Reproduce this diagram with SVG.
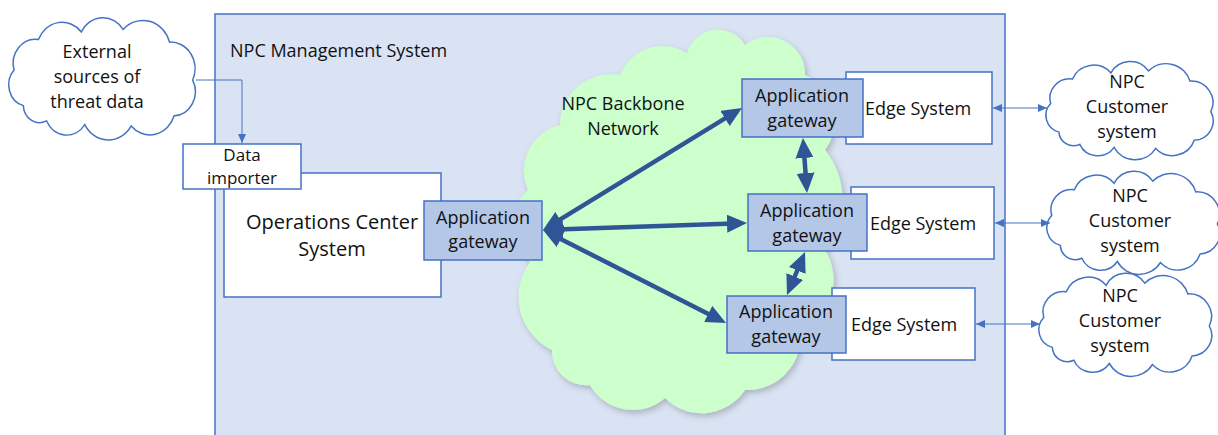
<svg xmlns="http://www.w3.org/2000/svg" width="1218" height="435" viewBox="0 0 1218 435">
<style>
  text { font-family: "Open Sans", "Noto Sans", "Liberation Sans", sans-serif; fill: #111; }
  .t18 { font-size: 18px; }
  .t17 { font-size: 17px; }
  .t20 { font-size: 20px; }
  .box { fill: #ffffff; stroke: #4472c4; stroke-width: 1.5; }
  .gw { fill: #b4c7e7; stroke: #4472c4; stroke-width: 1.5; }
  .cloud { fill: #ffffff; stroke: #4472c4; stroke-width: 1.5; }
  .thick { stroke: #2f5597; stroke-width: 4.5; fill: none; marker-start: url(#bigArrow); marker-end: url(#bigArrow); }
  .thin { stroke: #4472c4; stroke-width: 1; fill: none; }
</style>
<defs>
  <marker id="bigArrow" markerUnits="userSpaceOnUse" markerWidth="20" markerHeight="18" refX="14" refY="9" orient="auto-start-reverse" viewBox="0 0 20 18">
    <path d="M0,0 L20,9 L0,18 z" fill="#2f5597"/>
  </marker>
  <marker id="smallArrow" markerUnits="userSpaceOnUse" markerWidth="9" markerHeight="8" refX="9" refY="4" orient="auto-start-reverse" viewBox="0 0 9 8">
    <path d="M0,0 L9,4 L0,8 z" fill="#4472c4"/>
  </marker>
  <path id="cloudShape" vector-effect="non-scaling-stroke" d="M 22,70 A 17,17 0 0 1 14,42 A 19,19 0 0 1 35,18 A 22,22 0 0 1 72,12 A 21,21 0 0 1 108,10 A 24,24 0 0 1 148,20 A 21,21 0 0 1 168,50 A 19,19 0 0 1 152,78 A 22,22 0 0 1 115,86 A 23,23 0 0 1 75,85 A 19,19 0 0 1 42,82 A 14,14 0 0 1 22,70 Z"/>
  <filter id="shadow" x="-10%" y="-10%" width="120%" height="120%">
    <feDropShadow dx="2" dy="3" stdDeviation="3" flood-color="#000" flood-opacity="0.22"/>
  </filter>
</defs>

<g id="npc-management-system">
  <rect x="215" y="14" width="790" height="440" fill="#dae3f3" stroke="#4472c4" stroke-width="1.5"/>
  <text class="t18" x="230" y="57">NPC Management System</text>
</g>

<g id="npc-backbone-network">
  <path filter="url(#shadow)" fill="#ccffcc" d="M 552,350 A 59,59 0 0 1 530,262 A 47,47 0 0 1 528,190 A 47,47 0 0 1 560,125 A 51,51 0 0 1 620,75 A 46,46 0 0 1 687,53 A 32,32 0 0 1 745,45 A 37,37 0 0 1 805,75 A 50,50 0 0 1 825,150 A 80,80 0 0 1 825,250 A 55,55 0 0 1 800,330 A 53,53 0 0 1 745,390 A 52,52 0 0 1 665,398 A 49,49 0 0 1 590,385 A 34,34 0 0 1 552,350 Z"/>
  <text class="t18" text-anchor="middle" x="623" y="110">NPC Backbone</text>
  <text class="t18" text-anchor="middle" x="623" y="135">Network</text>
</g>

<g id="external-sources">
  <use href="#cloudShape" class="cloud" transform="translate(-2.2,16.7) scale(1.16,1.27)"/>
  <text class="t18" text-anchor="middle" x="97" y="58">External</text>
  <text class="t18" text-anchor="middle" x="97" y="83">sources of</text>
  <text class="t18" text-anchor="middle" x="97" y="108">threat data</text>
</g>

<g id="operations-center">
  <rect class="box" x="224" y="173" width="217" height="124"/>
  <text class="t20" text-anchor="middle" x="332" y="229">Operations Center</text>
  <text class="t20" text-anchor="middle" x="332" y="256">System</text>
</g>

<g id="data-importer">
  <rect class="box" x="183" y="144" width="118" height="45"/>
  <text class="t17" text-anchor="middle" x="242" y="161">Data</text>
  <text class="t17" text-anchor="middle" x="242" y="184">importer</text>
</g>

<g id="gateway-ops">
  <rect class="gw" x="424" y="201" width="118" height="59"/>
  <text class="t18" text-anchor="middle" x="483" y="224">Application</text>
  <text class="t18" text-anchor="middle" x="483" y="248">gateway</text>
</g>

<g id="edge-system-1">
  <rect class="box" x="846" y="72" width="146" height="72"/>
  <text class="t18" text-anchor="middle" x="918" y="115">Edge System</text>
</g>
<g id="gateway-1">
  <rect class="gw" x="742" y="79" width="121" height="58"/>
  <text class="t18" text-anchor="middle" x="802" y="102">Application</text>
  <text class="t18" text-anchor="middle" x="802" y="127">gateway</text>
</g>

<g id="edge-system-2">
  <rect class="box" x="851" y="187" width="143" height="72"/>
  <text class="t18" text-anchor="middle" x="923" y="230">Edge System</text>
</g>
<g id="gateway-2">
  <rect class="gw" x="748" y="194" width="119" height="57"/>
  <text class="t18" text-anchor="middle" x="807" y="217">Application</text>
  <text class="t18" text-anchor="middle" x="807" y="242">gateway</text>
</g>

<g id="edge-system-3">
  <rect class="box" x="832" y="288" width="143" height="72"/>
  <text class="t18" text-anchor="middle" x="904" y="331">Edge System</text>
</g>
<g id="gateway-3">
  <rect class="gw" x="727" y="296" width="119" height="57"/>
  <text class="t18" text-anchor="middle" x="786" y="318">Application</text>
  <text class="t18" text-anchor="middle" x="786" y="343">gateway</text>
</g>

<g id="customer-1">
  <use href="#cloudShape" class="cloud" transform="translate(1036.1,60.7) scale(1.04,1.02)"/>
  <text class="t18" text-anchor="middle" x="1127" y="88">NPC</text>
  <text class="t18" text-anchor="middle" x="1127" y="113">Customer</text>
  <text class="t18" text-anchor="middle" x="1127" y="138">system</text>
</g>
<g id="customer-2">
  <use href="#cloudShape" class="cloud" transform="translate(1036.7,170.5) scale(1.075,1.07)"/>
  <text class="t18" text-anchor="middle" x="1130" y="202">NPC</text>
  <text class="t18" text-anchor="middle" x="1130" y="227">Customer</text>
  <text class="t18" text-anchor="middle" x="1130" y="252">system</text>
</g>
<g id="customer-3">
  <use href="#cloudShape" class="cloud" transform="translate(1028.7,272.5) scale(1.075,1.07)"/>
  <text class="t18" text-anchor="middle" x="1120" y="302">NPC</text>
  <text class="t18" text-anchor="middle" x="1120" y="327">Customer</text>
  <text class="t18" text-anchor="middle" x="1120" y="352">system</text>
</g>

<g id="connectors">
  <path class="thin" d="M196,80 H242 V143" marker-end="url(#smallArrow)"/>
  <path class="thin" d="M993,108 H1047" marker-start="url(#smallArrow)" marker-end="url(#smallArrow)"/>
  <path class="thin" d="M995,223 H1050" marker-start="url(#smallArrow)" marker-end="url(#smallArrow)"/>
  <path class="thin" d="M976,324 H1040" marker-start="url(#smallArrow)" marker-end="url(#smallArrow)"/>
  <path class="thick" d="M548.1,226.9 L736.9,111.1"/>
  <path class="thick" d="M549,229.8 L741,223.2"/>
  <path class="thick" d="M548.3,232.7 L720.7,320.3"/>
  <path class="thick" d="M803.4,144 L806.6,187"/>
  <path class="thick" d="M802.7,257.5 L789.3,289.5"/>
</g>
</svg>
